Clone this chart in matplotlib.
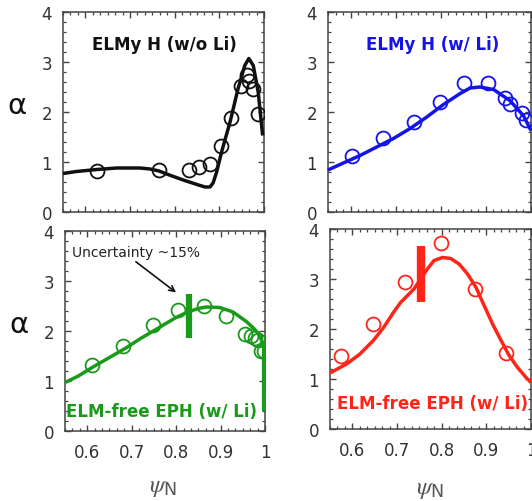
import numpy as np
import matplotlib
matplotlib.use('Agg')
import matplotlib.pyplot as plt
from matplotlib.ticker import MultipleLocator

plt.rcParams['font.family'] = ['DejaVu Sans']
plt.rcParams['mathtext.fontset'] = 'stix'

# ELMy H (w/o Li) - black
psi_a = [0.625, 0.766, 0.833, 0.855, 0.879, 0.903, 0.926, 0.948, 0.961, 0.967, 0.976, 0.987]
alp_a = [0.83, 0.85, 0.85, 0.91, 0.97, 1.32, 1.88, 2.53, 2.75, 2.62, 2.47, 1.97]
fit_psi_a = [0.55, 0.58, 0.626, 0.67, 0.722, 0.745, 0.765, 0.782, 0.819, 0.857, 0.868,
             0.879, 0.886, 0.894, 0.905, 0.924, 0.942, 0.957, 0.966, 0.976, 0.987, 0.997]
fit_alp_a = [0.77, 0.81, 0.85, 0.88, 0.88, 0.86, 0.82, 0.76, 0.64, 0.53, 0.50,
             0.50, 0.58, 0.80, 1.20, 1.80, 2.47, 2.93, 3.07, 2.93, 2.40, 1.53]

# ELMy H (w/ Li) - blue
psi_b = [0.603, 0.673, 0.741, 0.798, 0.852, 0.905, 0.942, 0.953, 0.979, 0.99]
alp_b = [1.13, 1.48, 1.80, 2.20, 2.58, 2.58, 2.28, 2.17, 1.99, 1.85]
fit_psi_b = [0.55, 0.584, 0.621, 0.658, 0.695, 0.732, 0.769, 0.806, 0.843, 0.865,
             0.887, 0.917, 0.953, 0.983, 1.0]
fit_alp_b = [0.84, 0.98, 1.13, 1.30, 1.47, 1.67, 1.90, 2.15, 2.37, 2.48,
             2.50, 2.45, 2.23, 1.93, 1.63]

# ELM-free EPH (w/ Li) - green
psi_c = [0.61, 0.681, 0.749, 0.805, 0.862, 0.913, 0.956, 0.968, 0.977, 0.985, 0.991, 0.998]
alp_c = [1.32, 1.70, 2.12, 2.42, 2.50, 2.30, 1.95, 1.90, 1.87, 1.82, 1.60, 1.60]
fit_psi_c = [0.55, 0.58, 0.611, 0.65, 0.687, 0.72, 0.747, 0.775, 0.8, 0.826, 0.85,
             0.868, 0.898, 0.928, 0.958, 0.975, 0.985, 0.993, 0.997, 0.997]
fit_alp_c = [0.97, 1.10, 1.27, 1.47, 1.66, 1.85, 1.99, 2.14, 2.27, 2.38, 2.45,
             2.48, 2.47, 2.38, 2.19, 2.05, 1.95, 1.80, 1.65, 0.40]
bar_c = (0.829, 1.87, 2.75)

# ELM-free EPH (w/ Li) - red
psi_d = [0.575, 0.647, 0.719, 0.798, 0.874, 0.944]
alp_d = [1.47, 2.10, 2.95, 3.73, 2.81, 1.53]
fit_psi_d = [0.55, 0.587, 0.617, 0.647, 0.67, 0.692, 0.708, 0.738, 0.768, 0.783, 0.802,
             0.82, 0.839, 0.858, 0.877, 0.895, 0.914, 0.933, 0.951, 0.97, 0.989, 1.0]
fit_alp_d = [1.12, 1.30, 1.50, 1.77, 2.03, 2.33, 2.53, 2.80, 3.20, 3.37, 3.43,
             3.41, 3.30, 3.10, 2.83, 2.47, 2.10, 1.77, 1.47, 1.23, 1.03, 0.93]
bar_d = (0.754, 2.55, 3.67)

W, H = 532, 502
fig = plt.figure(figsize=(W / 100, H / 100), dpi=100)

def px_axes(x0, y_top, x1, y_bot):
    return fig.add_axes([x0 / W, 1 - y_bot / H, (x1 - x0) / W, (y_bot - y_top) / H])

ax_tl = px_axes(63, 13, 264, 213)
ax_tr = px_axes(328, 13, 531, 213)
ax_bl = px_axes(65, 232, 265, 432)
ax_br = px_axes(330, 230, 531, 430)

panels = [
    (ax_tl, psi_a, alp_a, fit_psi_a, fit_alp_a, '#111111', 'ELMy H (w/o Li)', (0.776, 3.37)),
    (ax_tr, psi_b, alp_b, fit_psi_b, fit_alp_b, '#1414e6', 'ELMy H (w/ Li)', (0.783, 3.37)),
    (ax_bl, psi_c, alp_c, fit_psi_c, fit_alp_c, '#1a9a1a', 'ELM-free EPH (w/ Li)', (0.767, 0.40)),
    (ax_br, psi_d, alp_d, fit_psi_d, fit_alp_d, '#ff2418', 'ELM-free EPH (w/ Li)', (0.779, 0.52)),
]

for ax, px, py, fx, fy, col, label, lpos in panels:
    ax.plot(fx, fy, color=col, lw=2.5, solid_capstyle='butt', solid_joinstyle='round',
            zorder=3, clip_on=False)
    ax.plot(px, py, 'o', ms=10, mfc='none', mec=col, mew=1.3, zorder=4)
    ax.text(lpos[0], lpos[1], label, color=col, fontsize=12, fontweight='bold',
            ha='center', va='center', zorder=5)
    ax.set_xlim(0.55, 1.0)
    ax.set_ylim(0, 4)
    ax.xaxis.set_major_locator(MultipleLocator(0.1))
    ax.xaxis.set_minor_locator(MultipleLocator(0.1 / 6))
    ax.yaxis.set_major_locator(MultipleLocator(1))
    ax.yaxis.set_minor_locator(MultipleLocator(0.2))
    ax.tick_params(which='both', direction='in', top=True, right=True,
                   colors='#444444', labelcolor='#333333', labelsize=12)
    ax.tick_params(which='major', length=4.5, width=1)
    ax.tick_params(which='minor', length=2.2, width=0.9)
    ax.tick_params(axis='y', pad=8)
    ax.tick_params(axis='x', pad=9)
    ax.set_yticks([0, 1, 2, 3, 4])
    ax.set_yticklabels(['0', '1', '2', '3', '4'])
    for s in ax.spines.values():
        s.set_color('#444444')
        s.set_linewidth(1.1)

for ax in (ax_tl, ax_tr):
    ax.tick_params(axis='x', labelbottom=False)

for ax in (ax_bl, ax_br):
    ax.set_xticks([0.6, 0.7, 0.8, 0.9, 1.0])
    ax.set_xticklabels(['0.6', '0.7', '0.8', '0.9', '1'])

# uncertainty bars
ax_bl.plot([bar_c[0], bar_c[0]], [bar_c[1], bar_c[2]], color='#1a9a1a', lw=4.5,
           solid_capstyle='butt', zorder=5)
ax_br.plot([bar_d[0], bar_d[0]], [bar_d[1], bar_d[2]], color='#ff2418', lw=6,
           solid_capstyle='butt', zorder=5)

ax_bl.annotate('Uncertainty ~15%', xy=(0.8, 2.77), xytext=(0.566, 3.58),
               fontsize=10, color='#222222', ha='left', va='center',
               arrowprops=dict(arrowstyle='->', color='#111111', lw=1.2,
                               shrinkA=0, shrinkB=0,
                               relpos=(0.47, 0.0)))

# axis labels
fig.text(17 / W, 1 - 106 / H, 'α', fontsize=21, ha='center', va='center', color='#111111')
fig.text(19 / W, 1 - 325 / H, 'α', fontsize=21, ha='center', va='center', color='#111111')
fig.text(163 / W, 1 - 487 / H, r'$\psi_{\mathregular{N}}$', fontsize=18, ha='center', va='center', color='#555555')
fig.text(430 / W, 1 - 489 / H, r'$\psi_{\mathregular{N}}$', fontsize=18, ha='center', va='center', color='#555555')

fig.savefig('out.png', dpi=100)
